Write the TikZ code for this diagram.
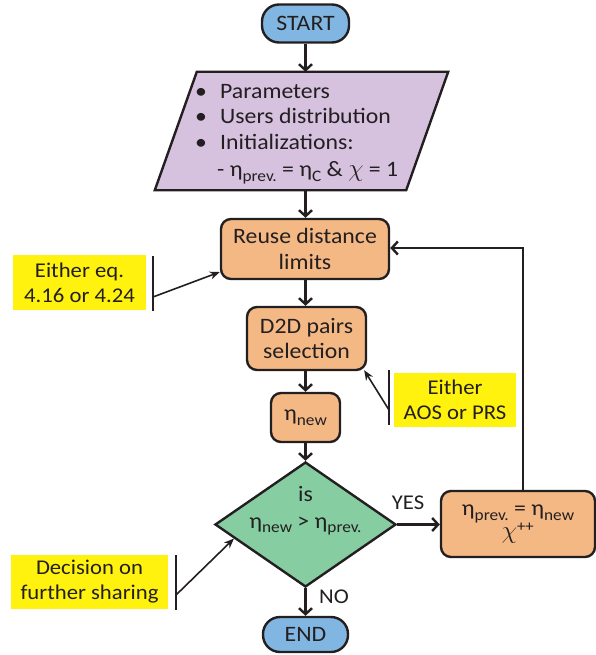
\documentclass[tikz,border=0pt]{standalone}
\usepackage{fontspec}
\setmainfont{Carlito}[FakeStretch=1.08]
\usetikzlibrary{arrows.meta,backgrounds,shapes.geometric,calc}

\definecolor{ink}{HTML}{231F20}
\definecolor{termblue}{HTML}{80B6E1}
\definecolor{inputlilac}{HTML}{D6C1DF}
\definecolor{procorange}{HTML}{F4B885}
\definecolor{decgreen}{HTML}{86CDA1}
\definecolor{noteyellow}{HTML}{FFF20F}

% lowered, smaller text for subscripts
\newcommand\lowtxt[1]{\raisebox{-0.22em}{\fontsize{16}{16}\selectfont #1}}
\newcommand\etaname{η}
% italic chi taken from the math font
\newcommand\chiname{{\fontsize{23}{23}\selectfont$\chi$}}

\tikzset{
  txt/.style={font=\fontsize{22}{25.5}\selectfont, text=ink, align=center},
  base/.style={txt, draw=ink, line width=2.4pt, inner sep=2pt},
  terminal/.style={base, fill=termblue, rounded corners=17pt},
  proc/.style={base, fill=procorange, rounded corners=10pt},
  decision/.style={base, fill=decgreen, diamond, inner sep=0pt},
  flow/.style={draw=ink, line width=2.4pt, -{Straight Barb[length=6pt,width=13pt,line width=2.4pt]}},
  note/.style={txt, fill=noteyellow, inner sep=0pt, font=\fontsize{21}{25}\selectfont},
  notebar/.style={draw=ink, line width=1.6pt},
  pointer/.style={draw=ink, line width=1.6pt, -{Stealth[length=10pt,width=8pt]}},
  branch/.style={txt, font=\fontsize{21}{24}\selectfont, inner sep=0pt}
}

\begin{document}
\begin{tikzpicture}[x=1pt,y=-1pt]
\useasboundingbox (0,0) rectangle (596,655);

% main column
\node[terminal, minimum width=87pt, minimum height=38pt] (start) at (305.5,23.5) {START};

\node[minimum width=293pt, minimum height=118pt, inner sep=0pt] (params) at (301.5,131) {};
\begin{scope}[on background layer]
  \draw[fill=inputlilac, draw=ink, line width=2.4pt, line join=miter]
    ([xshift=42pt]params.north west) -- (params.north east)
    -- ([xshift=-42pt]params.south east) -- (params.south west) -- cycle;
\end{scope}
\node[txt, align=left, anchor=west, inner sep=0pt] (paramtext) at (195,134)
  {\makebox[25pt][l]{•}Parameters\\
   \makebox[25pt][l]{•}Users distribution\\
   \makebox[25pt][l]{•}Initializations:\\[2pt]
   \hspace{22pt}- \etaname\lowtxt{prev.} = \etaname\lowtxt{C} \& \chiname{} = 1};

\node[proc, minimum width=168pt, minimum height=60pt] (reuse) at (305,249) {Reuse distance\\limits};
\node[proc, minimum width=119pt, minimum height=63pt] (d2d) at (306.5,338.5) {D2D pairs\\selection};
\node[proc, minimum width=69pt, minimum height=49pt] (etanew) at (305.5,417.5) {\etaname\lowtxt{new}};
\node[decision, minimum width=181pt, minimum height=125pt] (dec) at (305.5,524.5) {};
\node[txt] (dectext) at (305.5,511) {is\\[1pt]\etaname\lowtxt{new} > \etaname\lowtxt{prev.}};
\node[proc, minimum width=154pt, minimum height=66pt] (update) at (518,524)
  {\etaname\lowtxt{prev.} = \etaname\lowtxt{new}\\[-2pt]\chiname\textsuperscript{++}};
\node[terminal, minimum width=85pt, minimum height=35pt] (end) at (305.5,634.5) {END};

\node[branch] (yes) at (408,503) {YES};
\node[branch] (no) at (334,597) {NO};

% main flow
\draw[flow] (start.south -| 305.5,0) -- (params.north -| 305.5,0);
\draw[flow] (params.south -| 305.5,0) -- (reuse.north -| 305.5,0);
\draw[flow] (reuse.south -| 305.5,0) -- (d2d.north -| 305.5,0);
\draw[flow] (d2d.south -| 305.5,0) -- (etanew.north -| 305.5,0);
\draw[flow] (etanew.south -| 305.5,0) -- (dec.north);
\draw[flow] (dec.east) -- (update.west |- dec.east);
\draw[flow] (dec.south) -- (end.north);
\coordinate (loop) at (523,248);
\draw[flow, line join=miter] (update.north -| loop) -- (loop) -- (reuse.east |- loop);

% side notes
\node[note, minimum width=133pt, minimum height=55pt] (noteA) at (79.5,282.5) {Either eq.\\4.16 or 4.24};
\node[note, minimum width=122pt, minimum height=54pt] (noteB) at (455,400) {Either\\AOS or PRS};
\node[note, minimum width=157pt, minimum height=54pt] (noteC) at (89.5,582) {Decision on\\further sharing};

\coordinate (barAtop) at (153,256);
\coordinate (barAbot) at (153,311);
\coordinate (tailA) at (153,297);
\draw[notebar] (barAtop) -- (barAbot);
\draw[pointer] (tailA) -- (reuse.west |- 0,272);

\coordinate (barBtop) at (389,370);
\coordinate (barBbot) at (389,425);
\coordinate (tailB) at (389,410);
\draw[notebar] (barBtop) -- (barBbot);
\draw[pointer] (tailB) -- ([xshift=-3pt,yshift=1pt]d2d.south east);

\coordinate (barCtop) at (176,555);
\coordinate (barCbot) at (176,610);
\coordinate (tailC) at (176,595);
\draw[notebar] (barCtop) -- (barCbot);
\draw[pointer] (tailC) -- ($(dec.west)!0.22!(dec.south)$);
\end{tikzpicture}
\end{document}
